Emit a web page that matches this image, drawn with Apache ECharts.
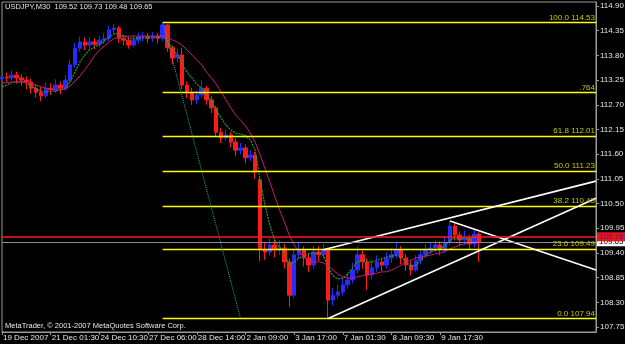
<!DOCTYPE html>
<html>
<head>
<meta charset="utf-8">
<title>USDJPY,M30</title>
<script src="https://cdn.jsdelivr.net/npm/echarts@6/dist/echarts.min.js"></script>
<style>
  html, body { margin: 0; padding: 0; background: #000; }
  #main { width: 625px; height: 344px; }
</style>
</head>
<body>
<div id="main"></div>
<script type="text/javascript">
    // time axis labels, one every 10 bars
    var timeLabels = ['19 Dec 2007', '21 Dec 01:30', '24 Dec 10:30', '27 Dec 06:00', '28 Dec 14:00',
        '2 Jan 09:00', '3 Jan 17:00', '7 Jan 01:30', '8 Jan 09:30', '9 Jan 17:30'];
    var labelStep = 10;
    var slotCount = 123; // bars + empty shift area on the right

    // price axis ticks
    var priceTicks = [107.75, 108.30, 108.85, 109.40, 109.95, 110.50, 111.05, 111.60,
        112.15, 112.70, 113.25, 113.80, 114.35, 114.90];

    var opens = [113.28, 113.32, 113.30, 113.36, 113.30, 113.25, 113.21, 113.07, 112.98, 112.90,
        113.07, 113.03, 113.14, 113.07, 113.25, 113.59, 113.96, 114.10, 114.03, 114.10,
        114.05, 114.14, 114.18, 114.37, 114.41, 114.18, 114.14, 114.03, 114.14, 114.21,
        114.23, 114.18, 114.23, 114.18, 114.48, 113.97, 113.74, 113.81, 113.14, 112.98,
        112.81, 112.92, 113.07, 112.81, 112.63, 112.09, 111.96, 112.03, 111.87, 111.69,
        111.74, 111.52, 111.58, 111.03, 109.47, 109.42, 109.58, 109.47, 109.51, 109.20,
        108.46, 109.36, 109.47, 109.29, 109.13, 109.42, 109.36, 109.47, 108.35, 108.46,
        108.53, 108.69, 108.80, 109.02, 109.36, 109.20, 108.91, 109.07, 109.20, 109.13,
        109.29, 109.36, 109.47, 109.29, 109.13, 109.02, 109.24, 109.36, 109.47, 109.51,
        109.58, 109.47, 109.64, 110.00, 109.80, 109.69, 109.73, 109.60, 109.82];
    var closes = [113.32, 113.30, 113.36, 113.30, 113.25, 113.21, 113.07, 112.98, 112.90, 113.07,
        113.03, 113.14, 113.07, 113.25, 113.59, 113.96, 114.10, 114.03, 114.10, 114.05,
        114.14, 114.18, 114.37, 114.41, 114.18, 114.14, 114.03, 114.14, 114.21, 114.23,
        114.18, 114.23, 114.18, 114.48, 113.97, 113.74, 113.81, 113.14, 112.98, 112.81,
        112.92, 113.07, 112.81, 112.63, 112.09, 111.96, 112.03, 111.87, 111.69, 111.74,
        111.52, 111.58, 111.20, 109.47, 109.42, 109.58, 109.47, 109.51, 109.20, 108.46,
        109.36, 109.47, 109.29, 109.13, 109.42, 109.36, 109.47, 108.35, 108.46, 108.53,
        108.69, 108.80, 109.02, 109.36, 109.20, 108.91, 109.07, 109.20, 109.13, 109.29,
        109.36, 109.47, 109.29, 109.13, 109.02, 109.24, 109.36, 109.47, 109.51, 109.58,
        109.47, 109.64, 110.00, 109.80, 109.69, 109.73, 109.60, 109.82, 109.65];
    var lows = [113.18, 113.20, 113.24, 113.17, 113.12, 113.05, 112.95, 112.86, 112.78, 112.85,
        112.92, 112.96, 112.94, 113.02, 113.20, 113.52, 113.88, 113.92, 113.95, 113.94,
        113.98, 114.06, 114.12, 114.28, 114.08, 114.02, 113.95, 113.98, 114.06, 114.12,
        114.08, 114.10, 114.07, 114.12, 113.88, 113.60, 113.65, 113.05, 112.85, 112.70,
        112.72, 112.85, 112.70, 112.52, 111.98, 111.85, 111.90, 111.75, 111.55, 111.60,
        111.40, 111.45, 111.05, 109.22, 109.25, 109.35, 109.30, 109.36, 109.05, 108.20,
        108.40, 109.28, 109.10, 108.98, 109.05, 109.22, 109.28, 107.94, 108.22, 108.38,
        108.45, 108.60, 108.72, 108.95, 109.05, 108.58, 108.82, 108.98, 109.00, 109.05,
        109.18, 109.28, 109.15, 109.00, 108.90, 108.98, 109.15, 109.28, 109.38, 109.42,
        109.35, 109.40, 109.58, 109.68, 109.55, 109.58, 109.47, 109.52, 109.20];
    var highs = [113.45, 113.42, 113.47, 113.44, 113.38, 113.33, 113.28, 113.16, 113.10, 113.20,
        113.18, 113.27, 113.22, 113.36, 113.70, 114.08, 114.22, 114.20, 114.21, 114.19,
        114.24, 114.30, 114.46, 114.50, 114.45, 114.26, 114.22, 114.25, 114.31, 114.33,
        114.30, 114.32, 114.30, 114.53, 114.50, 114.02, 113.95, 113.97, 113.22, 113.08,
        113.02, 113.25, 113.12, 112.90, 112.68, 112.18, 112.15, 112.10, 111.95, 111.85,
        111.82, 111.70, 111.65, 111.10, 109.62, 109.72, 109.70, 109.68, 109.60, 109.28,
        109.50, 109.65, 109.55, 109.40, 109.56, 109.55, 109.60, 109.52, 108.62, 108.70,
        108.82, 108.95, 109.18, 109.55, 109.45, 109.28, 109.22, 109.35, 109.30, 109.42,
        109.50, 109.62, 109.55, 109.38, 109.22, 109.35, 109.48, 109.60, 109.64, 109.70,
        109.66, 109.78, 110.11, 110.05, 109.88, 109.90, 109.80, 109.92, 109.86];

    // moving averages
    var slowMA = [113.19, 113.19, 113.21, 113.21, 113.21, 113.19, 113.16, 113.14, 113.10, 113.07,
        113.05, 113.03, 113.03, 113.05, 113.12, 113.23, 113.34, 113.48, 113.63, 113.79,
        113.92, 114.01, 114.10, 114.17, 114.21, 114.23, 114.23, 114.23, 114.23, 114.23,
        114.23, 114.23, 114.23, 114.23, 114.21, 114.14, 114.10, 114.03, 113.92, 113.81,
        113.70, 113.59, 113.43, 113.30, 113.16, 112.99, 112.81, 112.63, 112.47, 112.36,
        112.23, 112.07, 111.87, 111.58, 111.29, 110.98, 110.67, 110.36, 110.09, 109.80,
        109.58, 109.42, 109.31, 109.24, 109.20, 109.20, 109.18, 109.11, 109.02, 108.93,
        108.87, 108.84, 108.84, 108.87, 108.89, 108.91, 108.93, 108.95, 108.98, 108.98,
        109.02, 109.07, 109.13, 109.20, 109.24, 109.29, 109.31, 109.33, 109.35, 109.38,
        109.40, 109.44, 109.49, 109.53, 109.58, 109.60, 109.62, 109.64, 109.67];
    var midMA = [113.10, 113.14, 113.19, 113.21, 113.21, 113.19, 113.12, 113.05, 113.01, 112.99,
        112.99, 113.01, 113.03, 113.07, 113.21, 113.43, 113.65, 113.81, 113.92, 113.99,
        114.05, 114.12, 114.21, 114.28, 114.28, 114.23, 114.19, 114.17, 114.19, 114.19,
        114.19, 114.21, 114.21, 114.25, 114.10, 113.97, 113.81, 113.61, 113.43, 113.30,
        113.16, 113.07, 112.94, 112.76, 112.58, 112.41, 112.25, 112.14, 112.07, 112.05,
        112.01, 111.92, 111.69, 111.03, 110.47, 110.02, 109.69, 109.53, 109.42, 109.13,
        109.20, 109.29, 109.33, 109.38, 109.40, 109.40, 109.35, 109.07, 108.89, 108.82,
        108.84, 108.93, 109.07, 109.20, 109.24, 109.20, 109.20, 109.24, 109.27, 109.31,
        109.33, 109.35, 109.31, 109.20, 109.11, 109.13, 109.24, 109.35, 109.42, 109.47,
        109.49, 109.56, 109.69, 109.73, 109.73, 109.73, 109.71, 109.76, 109.73];

    // fibonacci levels drawn from the high bar
    var fibLevels = [114.53, 112.975, 112.01, 111.23, 110.45, 109.49, 107.94];
    var fibTexts = ['100.0 114.53', '.764', '61.8 112.01', '50.0 111.23', '38.2 110.45', '23.6 109.49', '0.0 107.94'];
    var fibStart = 33;
    var fibTrend = [[33, 114.53], [49, 107.94]];

    // hand drawn trend lines [[bar, price], [bar, price]]
    var trendLines = [
        [[66, 109.47], [122, 111.00]],
        [[67, 107.94], [122, 110.62]],
        [[92, 110.11], [122, 109.02]]
    ];

    var bidPrice = 109.76;
    var lastPrice = 109.65;
    var headerText = 'USDJPY,M30  109.52 109.73 109.48 109.65';
    var footerText = 'MetaTrader, \u00a9 2001-2007 MetaQuotes Software Corp.';

    var font = "'Liberation Sans', Arial, sans-serif";
    var fontSize = 8;

    var categories = [];
    for (var i = 0; i < slotCount; i++) {
        categories.push(i % labelStep === 0 && timeLabels[i / labelStep] ? timeLabels[i / labelStep] : '');
    }
    var candles = [];
    for (var j = 0; j < closes.length; j++) {
        candles.push([opens[j], closes[j], lows[j], highs[j]]);
    }

    var fibLines = fibLevels.map(function (v, k) {
        return [
            { coord: [fibStart, v], label: { formatter: fibTexts[k] } },
            { coord: [slotCount - 1, v] }
        ];
    });

    var showNamed = function (idx, val) { return val !== ''; };

    var myChart = echarts.init(document.getElementById('main'));
    var option = {
        animation: false,
        backgroundColor: '#000',
        title: [{
            text: headerText, left: 5, top: 3, padding: 0,
            textStyle: { color: '#e6e6e6', fontSize: 7.5, fontWeight: 'normal', fontFamily: font }
        }, {
            text: footerText, left: 5, top: 322, padding: 0,
            textStyle: { color: '#e6e6e6', fontSize: 7.5, fontWeight: 'normal', fontFamily: font }
        }],
        grid: {
            left: 2, right: 29, top: 2, bottom: 12,
            outerBoundsMode: 'none',
            containLabel: false,
            show: true, borderColor: '#9a9a9a', borderWidth: 1, backgroundColor: '#000'
        },
        xAxis: {
            type: 'category',
            data: categories,
            boundaryGap: false,
            axisLine: { lineStyle: { color: '#9a9a9a' } },
            axisTick: { interval: showNamed, length: 3, lineStyle: { color: '#9a9a9a' } },
            axisLabel: {
                interval: showNamed, color: '#e6e6e6', fontSize: fontSize, fontFamily: font,
                align: 'left', margin: 2, padding: [0, 0, 0, 1],
                showMinLabel: true, hideOverlap: false
            },
            splitLine: { show: false }
        },
        yAxis: {
            type: 'value',
            position: 'right',
            min: 107.64,
            max: 114.99,
            axisLine: { show: true, lineStyle: { color: '#9a9a9a' } },
            axisTick: { show: true, length: 3, customValues: priceTicks, lineStyle: { color: '#9a9a9a' } },
            axisLabel: {
                customValues: priceTicks, color: '#e6e6e6', fontSize: fontSize, fontFamily: font, margin: 4,
                formatter: function (v) { return v.toFixed(2); }
            },
            splitLine: { show: false }
        },
        series: [{
            type: 'candlestick',
            data: candles,
            barWidth: 4,
            itemStyle: {
                color: '#2a2aff', color0: '#ff1a1a',
                borderColor: '#2a2aff', borderColor0: '#ff1a1a', borderWidth: 1
            }
        }, {
            type: 'line',
            data: midMA,
            showSymbol: false,
            lineStyle: { color: '#22a022', width: 1.2, type: [2, 1] }
        }, {
            type: 'line',
            data: slowMA,
            showSymbol: false,
            lineStyle: { color: '#c8187c', width: 1 },
            markLine: {
                silent: true,
                symbol: ['none', 'none'],
                data: fibLines,
                lineStyle: { color: '#ffff00', width: 1.3, type: 'solid' },
                label: {
                    position: 'insideEndTop', distance: 1, color: '#c8c800',
                    fontSize: fontSize, fontFamily: font
                }
            }
        }, {
            type: 'line',
            data: [],
            markLine: {
                silent: true,
                symbol: ['none', 'none'],
                data: [
                    [{ coord: fibTrend[0] }, { coord: fibTrend[1] }]
                ],
                lineStyle: { color: '#1fa8a8', width: 1, type: 'dotted' },
                label: { show: false }
            }
        }, {
            type: 'line',
            data: [],
            markLine: {
                silent: true,
                symbol: ['none', 'none'],
                data: trendLines.map(function (t) { return [{ coord: t[0] }, { coord: t[1] }]; }),
                lineStyle: { color: '#ffffff', width: 1.6, type: 'solid' },
                label: { show: false }
            }
        }, {
            type: 'line',
            data: [],
            markLine: {
                silent: true,
                symbol: ['none', 'none'],
                data: [{
                    yAxis: lastPrice,
                    lineStyle: { color: '#8c8c8c', width: 1, type: 'solid' },
                    label: { formatter: lastPrice.toFixed(2), backgroundColor: '#ffffff', color: '#000' }
                }, {
                    yAxis: bidPrice,
                    lineStyle: { color: '#ff1a1a', width: 1.5, type: 'solid' },
                    label: { formatter: bidPrice.toFixed(2), backgroundColor: '#e01a1a', color: '#7a007a' }
                }],
                label: {
                    position: 'end', distance: 1, fontSize: fontSize, fontFamily: font, padding: [1, 2, 0, 2]
                }
            }
        }]
    };
    myChart.setOption(option);
</script>
</body>
</html>
